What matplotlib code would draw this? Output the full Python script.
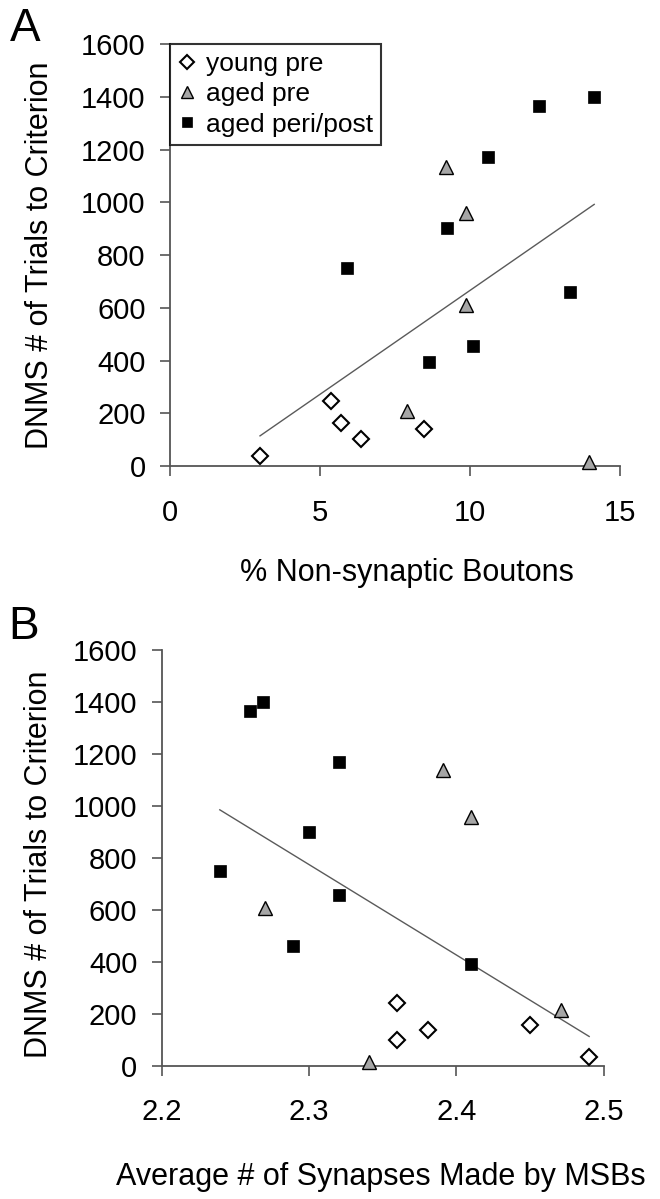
import numpy as np
import matplotlib
matplotlib.use("Agg")
import matplotlib.pyplot as plt
from matplotlib.lines import Line2D

plt.rcParams["font.family"] = ["Liberation Sans", "DejaVu Sans"]

# panel A: % non-synaptic boutons vs DNMS trials to criterion
young_a_x = [3.0, 5.38, 5.7, 6.38, 8.45]
young_a_y = [39, 248, 163, 102, 140]
agedpre_a_x = [9.19, 9.88, 9.88, 7.91, 13.97]
agedpre_a_y = [1135, 960, 610, 210, 15]
peri_a_x = [12.29, 14.14, 10.61, 9.22, 5.9, 13.33, 8.62, 10.11]
peri_a_y = [1365, 1400, 1172, 902, 750, 660, 395, 456]

# panel B: average # of synapses made by MSBs vs DNMS trials to criterion
young_b_x = [2.36, 2.36, 2.381, 2.45, 2.49]
young_b_y = [243, 99, 136, 155, 35]
agedpre_b_x = [2.391, 2.41, 2.27, 2.471, 2.341]
agedpre_b_y = [1138, 958, 606, 214, 13]
peri_b_x = [2.26, 2.269, 2.32, 2.30, 2.2395, 2.32, 2.289, 2.41]
peri_b_y = [1366, 1401, 1170, 898, 749, 657, 462, 390]

group_names = ["young pre", "aged pre", "aged peri/post"]
a_xticks = [0, 5, 10, 15]
b_xticks = [2.2, 2.3, 2.4, 2.5]
b_xticklabels = ["2.2", "2.3", "2.4", "2.5"]
yticks = [0, 200, 400, 600, 800, 1000, 1200, 1400, 1600]

STYLES = [
    dict(marker="D", mfc="white", mec="black", ms=8.5, mew=1.5),
    dict(marker="^", mfc="#a6a6a6", mec="black", ms=9.5, mew=1.0),
    dict(marker="s", mfc="black", mec="black", ms=8.0, mew=0.5),
]
AX_COL = "#555555"


def draw_panel(ax, groups, xlim, xticks, xticklabels, xlabel, xlab_pos, ylab_pos):
    for (gx, gy), st in zip(groups, STYLES):
        ax.plot(gx, gy, ls="none", clip_on=False, zorder=3, **st)

    # least-squares trend line over all animals
    allx = np.concatenate([np.asarray(g[0], float) for g in groups])
    ally = np.concatenate([np.asarray(g[1], float) for g in groups])
    coef = np.polyfit(allx, ally, 1)
    xx = np.array([allx.min(), allx.max()])
    ax.plot(xx, np.polyval(coef, xx), color="#5a5a5a", lw=1.0, zorder=2)

    ax.set_xlim(*xlim)
    ax.set_ylim(0, 1600)
    ax.set_xticks(xticks)
    ax.set_xticklabels(xticklabels)
    ax.set_yticks(yticks)
    for s in ("top", "right"):
        ax.spines[s].set_visible(False)
    for s in ("left", "bottom"):
        ax.spines[s].set_color(AX_COL)
        ax.spines[s].set_linewidth(1.3)
    ax.tick_params(axis="both", direction="out", length=7.5, width=1.2,
                   color=AX_COL, labelsize=21)
    ax.tick_params(axis="x", pad=16)
    ax.tick_params(axis="y", pad=10)

    ax.set_xlabel(xlabel, fontsize=22)
    ax.xaxis.label.set_va("center")
    ax.xaxis.set_label_coords(*xlab_pos)
    ax.set_ylabel("DNMS # of Trials to Criterion", fontsize=22)
    ax.yaxis.label.set_va("center")
    ax.yaxis.set_label_coords(*ylab_pos)


fig = plt.figure(figsize=(6.6, 11.99), dpi=100)
ax_a = fig.add_axes([0.2576, 0.6113, 0.6818, 0.352])
ax_b = fig.add_axes([0.2448, 0.1112, 0.6702, 0.3467])

draw_panel(ax_a,
           [(young_a_x, young_a_y), (agedpre_a_x, agedpre_a_y), (peri_a_x, peri_a_y)],
           (0, 15), a_xticks, [str(t) for t in a_xticks],
           "% Non-synaptic Boutons", (0.527, -0.254), (-0.289, 0.5))
draw_panel(ax_b,
           [(young_b_x, young_b_y), (agedpre_b_x, agedpre_b_y), (peri_b_x, peri_b_y)],
           (2.2, 2.5), b_xticks, b_xticklabels,
           "Average # of Synapses Made by MSBs", (0.495, -0.267), (-0.277, 0.485))

handles = [Line2D([], [], ls="none", **st) for st in STYLES]
leg = ax_a.legend(handles, group_names, loc="upper left", bbox_to_anchor=(0, 1),
                  borderaxespad=0, fontsize=19, frameon=True, fancybox=False,
                  handlelength=0.7, handletextpad=0.35, labelspacing=0.24,
                  borderpad=0.3, markerscale=0.85)
leg.get_frame().set_edgecolor("black")
leg.get_frame().set_linewidth(1.5)

fig.text(0.038, 1 - 29 / 1199, "A", fontsize=33, ha="center", va="center")
fig.text(0.035, 1 - 627 / 1199, "B", fontsize=33, ha="center", va="center")

fig.savefig("out.png", dpi=100)
